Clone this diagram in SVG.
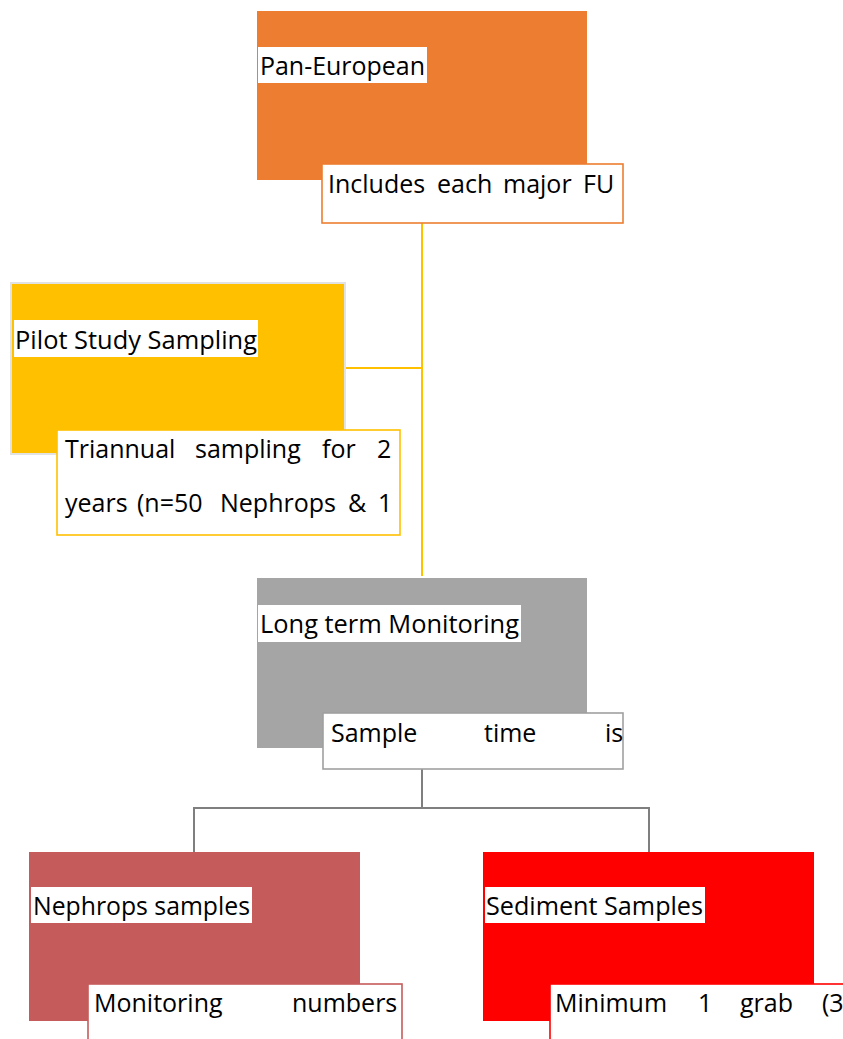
<svg xmlns="http://www.w3.org/2000/svg" width="843" height="1039" viewBox="0 0 843 1039">
<style>
text{font-family:"Open Sans","Noto Sans","Liberation Sans",sans-serif;font-size:25px;fill:#000}
.lbl{fill:#fff}
.tb{fill:#fff;stroke-width:1.6}
.cy{stroke:#FFC000;stroke-width:2;fill:none}
.cg{stroke:#7F7F7F;stroke-width:2;fill:none}
</style>
<rect width="843" height="1039" fill="#fff"/>
<g id="connectors">
<path class="cy" d="M422,203 V576 M345,368 H422"/>
<path class="cg" d="M422,769 V808 M194,852 V808 H649 V852"/>
</g>
<g id="pan-european">
<rect x="257" y="11" width="330" height="169" fill="#ED7D31"/>
<rect class="lbl" x="258" y="47" width="169" height="36"/>
<text x="260" y="75" textLength="165" lengthAdjust="spacingAndGlyphs">Pan-European</text>
<rect class="tb" x="322" y="164" width="301" height="59" stroke="#ED7D31"/>
<text y="193"><tspan x="328">Includes</tspan><tspan x="437">each</tspan><tspan x="503">major</tspan><tspan x="583">FU</tspan></text>
</g>
<g id="pilot-study">
<rect x="11" y="283" width="334" height="171" fill="#FFC000" stroke="#E2E2E2" stroke-width="2"/>
<rect class="lbl" x="14" y="320" width="244" height="37"/>
<text x="15" y="349" textLength="242" lengthAdjust="spacingAndGlyphs">Pilot Study Sampling</text>
<rect class="tb" x="57" y="430" width="343" height="105" stroke="#FFC000"/>
<text y="458"><tspan x="65">Triannual</tspan><tspan x="195">sampling</tspan><tspan x="322">for</tspan><tspan x="377">2</tspan></text>
<text y="512"><tspan x="65">years</tspan><tspan x="137">(n=50</tspan><tspan x="220">Nephrops</tspan><tspan x="348">&amp;</tspan><tspan x="378">1</tspan></text>
</g>
<g id="long-term">
<rect x="257" y="578" width="330" height="170" fill="#A5A5A5"/>
<rect class="lbl" x="258" y="605" width="263" height="37"/>
<text x="260" y="633" textLength="259" lengthAdjust="spacingAndGlyphs">Long term Monitoring</text>
<rect class="tb" x="323" y="713" width="300" height="56" stroke="#A0A0A0"/>
<text y="742"><tspan x="331">Sample</tspan><tspan x="484">time</tspan><tspan x="605">is</tspan></text>
</g>
<g id="nephrops">
<rect x="29" y="852" width="331" height="169" fill="#C65B5B"/>
<rect class="lbl" x="31" y="887" width="221" height="36"/>
<text x="33" y="915" textLength="217" lengthAdjust="spacingAndGlyphs">Nephrops samples</text>
<rect class="tb" x="88" y="984" width="314" height="70" stroke="#C65B5B"/>
<text y="1012"><tspan x="94">Monitoring</tspan><tspan x="292">numbers</tspan></text>
</g>
<g id="sediment">
<rect x="483" y="852" width="331" height="169" fill="#FF0000"/>
<rect class="lbl" x="485" y="887" width="220" height="36"/>
<text x="486" y="915" textLength="217" lengthAdjust="spacingAndGlyphs">Sediment Samples</text>
<rect class="tb" x="550" y="984" width="310" height="70" stroke="#FF0000"/>
<text y="1012"><tspan x="555">Minimum</tspan><tspan x="698">1</tspan><tspan x="740">grab</tspan><tspan x="822">(3</tspan></text>
</g>
</svg>
